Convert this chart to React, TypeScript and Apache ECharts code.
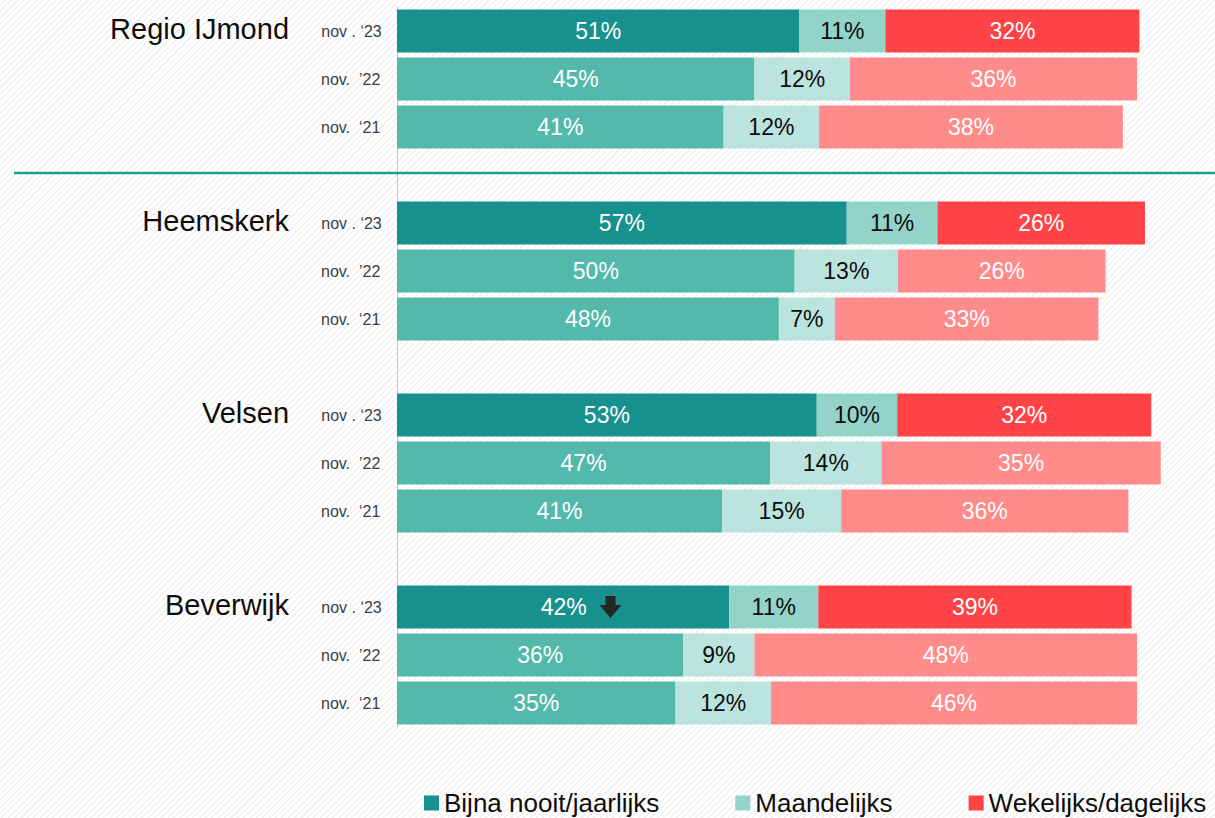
import React, { useEffect, useRef } from "react";
import * as echarts from "echarts";

const groups = ["Regio IJmond", "Heemskerk", "Velsen", "Beverwijk"];
const years = ["nov . ‘23", "nov.  ’22", "nov.  ‘21"];
const seriesNames = ["Bijna nooit/jaarlijks", "Maandelijks", "Wekelijks/dagelijks"];

// values per row: group x year (nov '23, '22, '21)
const bijnaNooit = [51.0, 45.3, 41.4, 57.0, 50.4, 48.4, 53.2, 47.3, 41.2, 42.1, 36.3, 35.3];
const maandelijks = [10.9, 12.1, 12.1, 11.5, 13.1, 7.1, 10.2, 14.1, 15.1, 11.3, 9.0, 12.1];
const wekelijks = [32.2, 36.4, 38.5, 26.3, 26.3, 33.4, 32.2, 35.4, 36.4, 39.7, 48.5, 46.4];

// shown (rounded) labels
const bijnaNooitLabels = [51, 45, 41, 57, 50, 48, 53, 47, 41, 42, 36, 35];
const maandelijksLabels = [11, 12, 12, 11, 13, 7, 10, 14, 15, 11, 9, 12];
const wekelijksLabels = [32, 36, 38, 26, 26, 33, 32, 35, 36, 39, 48, 46];

// significant decrease marker (row index)
const decreaseRows = [9];

const FONT = "'Liberation Sans', Arial, sans-serif";

const palettes = [
  ["#17918e", "#52b9ab", "#52b9ab"],
  ["#93d3c9", "#bce4de", "#bce4de"],
  ["#ff4347", "#ff8b8b", "#ff8b8b"],
];
const labelColors = ["#ffffff", "#0d0d0d", "#ffffff"];

const arrowSvg =
  "data:image/svg+xml;utf8," +
  encodeURIComponent(
    '<svg xmlns="http://www.w3.org/2000/svg" width="22" height="22" viewBox="0 0 22 22"><polygon points="6,0 16,0 16,9 22,9 11,22 0,9 6,9" fill="#262626"/></svg>'
  );

export default function App() {
  const ref = useRef<HTMLDivElement>(null);

  useEffect(() => {
    if (!ref.current) return;
    const chart = echarts.init(ref.current, null, { renderer: "svg" });

    const cats: string[] = [];
    const idxMap: (number | null)[] = [];
    groups.forEach((g, gi) => {
      if (gi > 0) {
        cats.push("gap" + gi);
        idxMap.push(null);
      }
      years.forEach((_y, yi) => {
        cats.push(g + "|" + yi);
        idxMap.push(gi * 3 + yi);
      });
    });

    const valueSets = [bijnaNooit, maandelijks, wekelijks];
    const labelSets = [bijnaNooitLabels, maandelijksLabels, wekelijksLabels];

    const series = valueSets.map((vals, s) => ({
      name: seriesNames[s],
      type: "bar",
      stack: "total",
      barWidth: 43,
      itemStyle: { color: palettes[s][0] },
      label: {
        show: true,
        position: "inside",
        color: labelColors[s],
        fontSize: 23,
        fontFamily: FONT,
        rich: {
          v: { color: labelColors[s], fontSize: 23, fontFamily: FONT },
          a: { width: 22, height: 22, backgroundColor: { image: arrowSvg } },
        },
      },
      data: idxMap.map((i) => {
        if (i === null) return "-";
        const item: any = {
          value: vals[i],
          itemStyle: { color: palettes[s][i % 3] },
          label: { formatter: labelSets[s][i] + "%" },
        };
        if (s === 0 && decreaseRows.includes(i)) {
          item.label = {
            formatter: "{v|" + labelSets[s][i] + "%}{v|  }{a|}",
            offset: [18, 0],
          };
        }
        return item;
      }),
    }));

    chart.setOption({
      animation: false,
      textStyle: { fontFamily: FONT },
      grid: { left: 397, right: 29, top: 7, bottom: 91, containLabel: false },
      xAxis: { type: "value", min: 0, max: 100, show: false },
      yAxis: {
        type: "category",
        inverse: true,
        data: cats,
        axisLine: { show: true, lineStyle: { color: "#c8c8c8", width: 1 } },
        axisTick: { show: false },
        axisLabel: {
          margin: 15,
          formatter: (val: string) => {
            if (val.startsWith("gap")) return "";
            const [g, yi] = val.split("|");
            const n = Number(yi);
            const y = "{y|" + years[n] + "}";
            return n === 0 ? "{g|" + g + "}" + y : y;
          },
          rich: {
            g: { fontSize: 29, color: "#0d0d0d", fontFamily: FONT, padding: [0, 32, 4, 0] },
            y: { fontSize: 16, color: "#404040", fontFamily: FONT, width: 61, align: "left" },
          },
        },
      },
      legend: {
        left: 424,
        bottom: 2,
        padding: 0,
        icon: "rect",
        itemWidth: 15,
        itemHeight: 15,
        itemGap: 76,
        textStyle: { fontSize: 26, color: "#0d0d0d", fontFamily: FONT },
        data: seriesNames,
      },
      graphic: [
        {
          type: "line",
          shape: { x1: 14, y1: 173, x2: 1215, y2: 173 },
          style: { stroke: "#1d9e97", lineWidth: 2.5 },
          z: 10,
        },
      ],
      series,
    });

    return () => chart.dispose();
  }, []);

  return (
    <div
      style={{
        position: "fixed",
        left: 0,
        top: 0,
        width: 1215,
        height: 818,
        background:
          "repeating-linear-gradient(135deg, #ffffff 0px, #ffffff 3px, #f2f2f2 3px, #f2f2f2 4.5px)",
      }}
    >
      <div ref={ref} style={{ width: 1215, height: 818 }} />
    </div>
  );
}
